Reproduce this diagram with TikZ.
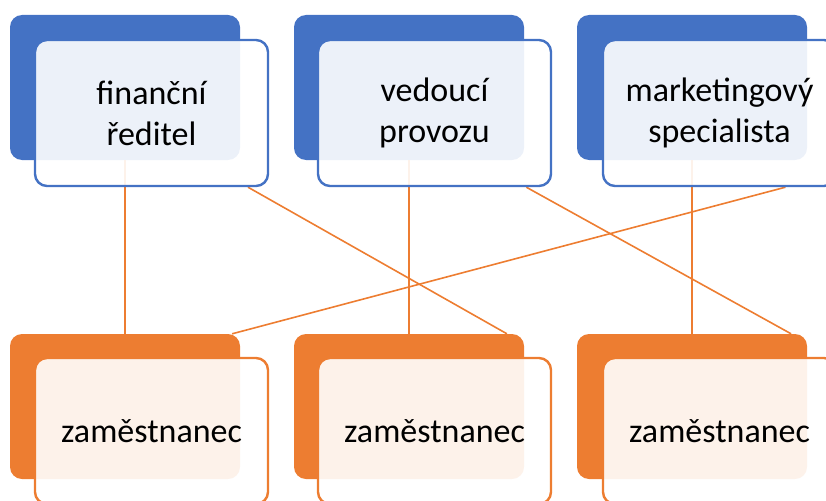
\documentclass[tikz,border=0pt]{standalone}
\usepackage{fontspec}
\setmainfont{Carlito}
\usetikzlibrary{calc}
\definecolor{boxblue}{HTML}{4472C4}
\definecolor{boxorange}{HTML}{ED7D31}

\begin{document}
\begin{tikzpicture}[x=1pt, y=-1pt, every node/.style={scale=1}]
        \pgfdeclarelayer{backlayer}
        \pgfdeclarelayer{edgelayer}
        \pgfsetlayers{backlayer,edgelayer,main}
        \tikzstyle{back}=[draw=none, rounded corners=12pt, minimum width=230pt, minimum height=145pt, inner sep=0pt]
        \tikzstyle{front}=[rounded corners=12pt, line width=2.4pt, fill=white, fill opacity=0.9, text opacity=1,
            minimum width=233pt, minimum height=146pt, inner sep=0pt, align=center,
            font=\fontsize{34}{41}\selectfont]
        \tikzstyle{link}=[draw=boxorange, line width=1.6pt]

        \useasboundingbox (0,0) rectangle (826,500);
        \clip (0,0) rectangle (826,500);

        \begin{pgfonlayer}{backlayer}
            \node [style=back, fill=boxblue] (b1) at (125, 87.5) {};
            \node [style=back, fill=boxblue] (b2) at (409, 87.5) {};
            \node [style=back, fill=boxblue] (b3) at (692, 87.5) {};
            \node [style=back, fill=boxorange] (c1) at (125, 406.5) {};
            \node [style=back, fill=boxorange] (c2) at (409, 406.5) {};
            \node [style=back, fill=boxorange] (c3) at (692, 406.5) {};
        \end{pgfonlayer}

        \node [style=front, draw=boxblue] (f1) at (151.5, 113) {finanční\\ředitel};
        \node [style=front, draw=boxblue] (f2) at (434.5, 113) {vedoucí\\provozu};
        \node [style=front, draw=boxblue] (f3) at (719.5, 113) {marketingový\\specialista};
        \node [style=front, draw=boxorange] (g1) at (151.5, 431) {zaměstnanec};
        \node [style=front, draw=boxorange] (g2) at (434.5, 431) {zaměstnanec};
        \node [style=front, draw=boxorange] (g3) at (719.5, 431) {zaměstnanec};

        \begin{pgfonlayer}{edgelayer}
            \draw [style=link] (b1.south) to (c1.north);
            \draw [style=link] (b2.south) to (c2.north);
            \draw [style=link] (b3.south) to (c3.north);
            \draw [style=link] ($(f1.south west)!0.91!(f1.south east)$) to ($(c2.north west)!0.925!(c2.north east)$);
            \draw [style=link] ($(f2.south west)!0.89!(f2.south east)$) to ($(c3.north west)!0.93!(c3.north east)$);
            \draw [style=link] ($(f3.south west)!0.78!(f3.south east)$) to ($(c1.north west)!0.965!(c1.north east)$);
        \end{pgfonlayer}
    \end{tikzpicture}
\end{document}
